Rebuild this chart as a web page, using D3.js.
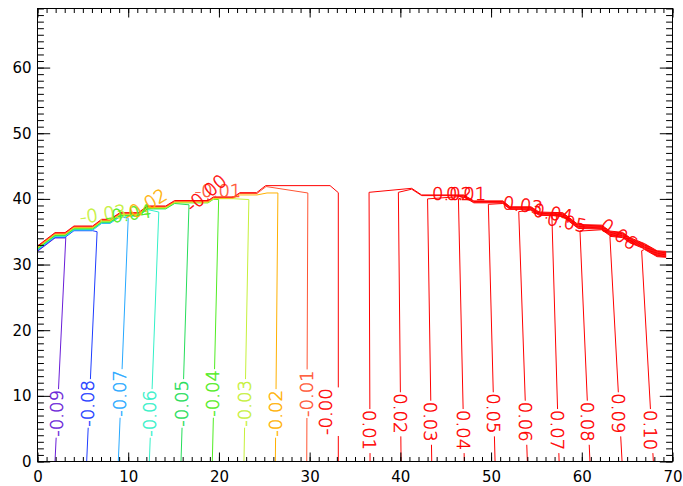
<!DOCTYPE html>
<html><head><meta charset="utf-8">
<script src="https://cdn.jsdelivr.net/npm/d3@7"></script>
<style>body{margin:0;background:#fff}svg{display:block}</style>
</head><body>
<svg id="chart" width="683" height="486"></svg>
<script>
// ---------------- data ----------------
const xTickLabels = ["0","10","20","30","40","50","60","70"];
const xTickValues = [0,10,20,30,40,50,60,70];
const yTickLabels = ["0","10","20","30","40","50","60"];
const yTickValues = [0,10,20,30,40,50,60];

// left (negative) contours
const leftLevels  = ["-0.09","-0.08","-0.07","-0.06","-0.05","-0.04","-0.03","-0.02","-0.01","-0.00"];
const leftBottomX = [1.93, 5.42, 8.91, 12.33, 15.82, 19.27, 22.76, 26.22, 29.68, 33.16];
const leftTop     = [[3.12,34.15],[6.57,35.0],[10.0,37.05],[13.37,38.0],[16.7,39.1],[19.97,39.9],[23.3,39.9],[26.5,40.9],[29.8,40.9],[33.16,40.95]];
const leftUpper   = [[],[],[],[],[],[],[],
  [[25.3,40.9],[24.2,40.6],[22.3,40.6]],
  [[25.2,41.88],[24.2,40.82],[22.3,40.82]],
  [[32.25,42.02],[25.15,42.02],[24.16,40.95],[22.32,40.95]]];
const leftRidge   = [[21.6,40.3],[19.4,40.3],[18.8,39.75],[15.12,39.75],[14.13,38.92],[12.11,38.92],[11.12,37.9],[9.09,37.9],[7.99,36.89],[7.07,36.89],[6.08,35.87],[4.02,35.87],[3.03,34.86],[1.93,34.86],[0,32.83]];
const leftDrop    = [0.81,0.72,0.63,0.54,0.45,0.36,0.27,0.18,0.09,0];
const leftLabelBottomY = [3.78, 5.30, 6.82, 3.78, 5.30, 6.82, 5.30, 3.78, 6.78, 4.04];
const leftLabelX  = [2.05, 5.49, 9.02, 12.4, 15.9, 19.31, 22.87, 26.22, 29.68, 31.8];

// right (positive) contours
const rightLevels  = ["0.01","0.02","0.03","0.04","0.05","0.06","0.07","0.08","0.09","0.10"];
const rightBottomX = [36.66, 40.08, 43.46, 47.05, 50.44, 54.0, 57.5, 60.9, 64.44, 67.89];
const rightTop     = [[36.55,41.0],[39.78,41.0],[43.0,40.0],[46.4,40.0],[49.7,39.17],[53.05,38.06],[56.7,37.5],[59.8,35.1],[63.1,34.3],[66.6,32.1]];
const rightUpper   = [[[41.25,41.61],[42.35,40.6]],[[41.25,41.48],[42.35,40.5]],[],[],[],[],[],[],[],[]];
const rightRidge   = [[42.35,40.6],[47.0,40.6],[48.1,39.7],[51.3,39.7],[52.1,38.8],[54.4,38.8],[55.3,38.0],[57.9,37.9],[59.6,36.1],[62.2,36.0],[63.1,35.1],[64.5,34.9],[65.3,34.1],[66.9,33.2],[68.3,32.1],[69.3,32.0]];
const rightDrop    = [0,0.1,0.2,0.3,0.4,0.5,0.6,0.7,0.8,0.9];
const rightLabelTopY = [7.84, 10.39, 9.11, 7.84, 10.39, 9.11, 7.84, 9.11, 10.39, 7.84];

// labels crowded along the ridge
const ridgeLabelText  = ["-0.03","-0.04","-0.02","-0.01","-0.00","0.02","0.01","0.03","0.04","0.05","0.06"];
const ridgeLabelX     = [7.22, 9.98, 11.86, 19.9, 18.58, 45.7, 47.24, 53.5, 56.83, 58.37, 64.1];
const ridgeLabelY     = [37.7, 37.7, 39.07, 41.35, 40.9, 40.8, 40.8, 39.07, 37.85, 36.48, 34.65];
const ridgeLabelAngle = [-8, -8, -31, 0, -40, 0, 0, 8, 10, 12, 35];

// ---------------- styles ----------------
const leftColors = ["#6a1ed8","#1e3cff","#26a8ff","#34f0c8","#26dd5a","#50ec22","#c6f03a","#ffb000","#ff5533","#ff0000"];
const rightColor = "#ff0000";
const ridgeLabelColor = ["#c6f03a","#50ec22","#ffb000","#ff5533","#ff0000","#ff0000","#ff0000","#ff0000","#ff0000","#ff0000","#ff0000"];
const labelFont = "font-family:'DejaVu Sans',sans-serif;font-size:18px;font-weight:200;letter-spacing:0px;stroke-width:0.45px";

// ---------------- chart ----------------
const svg = d3.select("#chart");
const L = 37.5, R = 672.5, T = 8.5, B = 461.5;
const x = d3.scaleLinear().domain([0,70]).range([L,R]);
const y = d3.scaleLinear().domain([0,69]).range([B,T]);
const line = d3.line().x(d=>x(d[0])).y(d=>y(d[1]));
const defs = svg.append("defs");
const gC = svg.append("g");

function interpX(p0, p1, yy){ return p0[0] + (p1[0]-p0[0])*(yy-p0[1])/(p1[1]-p0[1]); }

function contour(pts, color, idx, label, labelDataX, anchorY, dir){
  const lx = labelDataX != null ? labelDataX : interpX(pts[0], pts[1], anchorY);
  const t = gC.append("text").attr("style", labelFont).attr("fill", color).attr("stroke", color)
    .attr("text-anchor","start").attr("dominant-baseline","central")
    .attr("transform", `translate(${x(lx)},${y(anchorY)}) rotate(${dir<0?-90:90})`)
    .text(label);
  const len = t.node().getComputedTextLength();
  const lineX = x(interpX(pts[0], pts[1], anchorY));
  const m = defs.append("mask").attr("id","m"+idx).attr("maskUnits","userSpaceOnUse")
    .attr("x",0).attr("y",0).attr("width",683).attr("height",486);
  m.append("rect").attr("x",0).attr("y",0).attr("width",683).attr("height",486).attr("fill","#fff");
  const ya = y(anchorY);
  const y0 = dir<0 ? ya - len - 1 : ya - 1;
  const y1 = dir<0 ? ya + 1 : ya + len + 3;
  m.append("rect").attr("x",lineX-7).attr("y",y0).attr("width",14).attr("height",y1-y0).attr("fill","#000");
  gC.insert("path","text").attr("d", line(pts)).attr("fill","none").attr("stroke",color)
    .attr("stroke-width",1).attr("mask",`url(#m${idx})`);
}

leftLevels.forEach((lev,i)=>{
  const pts = [[leftBottomX[i],0], leftTop[i], ...leftUpper[i]];
  const lastX = pts[pts.length-1][0];
  leftRidge.filter(p=>p[0] < lastX-0.05).forEach(p=>pts.push([p[0], p[1]-leftDrop[i]]));
  contour(pts, leftColors[i], "L"+i, lev, leftLabelX[i], leftLabelBottomY[i], -1);
});
rightLevels.forEach((lev,i)=>{
  const pts = [[rightBottomX[i],0], rightTop[i], ...rightUpper[i]];
  const lastX = pts[pts.length-1][0];
  rightRidge.filter(p=>p[0] > lastX+0.05).forEach(p=>pts.push([p[0], p[1]-rightDrop[i]]));
  contour(pts, rightColor, "R"+i, lev, null, rightLabelTopY[i], 1);
});

ridgeLabelText.forEach((t,i)=>{
  svg.append("text").attr("style", labelFont).attr("fill", ridgeLabelColor[i]).attr("stroke", ridgeLabelColor[i])
    .attr("text-anchor","middle").attr("dominant-baseline","central")
    .attr("transform",`translate(${x(ridgeLabelX[i])},${y(ridgeLabelY[i])}) rotate(${ridgeLabelAngle[i]})`)
    .text(t);
});

// ---------------- axes ----------------
const minorX = d3.range(0,71,1), minorY = d3.range(0,70,1);
function styleAxis(g){
  g.select(".domain").remove();
  g.selectAll("line").attr("stroke","#000");
  g.selectAll("text").attr("font-family","'DejaVu Sans',sans-serif").attr("font-size",15).attr("fill","#000");
}
svg.append("g").attr("transform",`translate(0,${B})`).call(d3.axisBottom(x).tickValues(minorX).tickSize(-4.5).tickFormat("")).call(styleAxis);
svg.append("g").attr("transform",`translate(0,${B})`).call(d3.axisBottom(x).tickValues(xTickValues).tickSize(-9).tickPadding(10).tickFormat((d,i)=>xTickLabels[i])).call(styleAxis);
svg.append("g").attr("transform",`translate(0,${T})`).call(d3.axisTop(x).tickValues(minorX).tickSize(-4.5).tickFormat("")).call(styleAxis);
svg.append("g").attr("transform",`translate(0,${T})`).call(d3.axisTop(x).tickValues(xTickValues).tickSize(-9).tickFormat("")).call(styleAxis);
svg.append("g").attr("transform",`translate(${L},0)`).call(d3.axisLeft(y).tickValues(minorY).tickSize(-6.4).tickFormat("")).call(styleAxis);
svg.append("g").attr("transform",`translate(${L},0)`).call(d3.axisLeft(y).tickValues(yTickValues).tickSize(-12.7).tickPadding(6).tickFormat((d,i)=>yTickLabels[i])).call(styleAxis);
svg.append("g").attr("transform",`translate(${R},0)`).call(d3.axisRight(y).tickValues(minorY).tickSize(-6.4).tickFormat("")).call(styleAxis);
svg.append("g").attr("transform",`translate(${R},0)`).call(d3.axisRight(y).tickValues(yTickValues).tickSize(-12.7).tickFormat("")).call(styleAxis);
svg.append("rect").attr("x",L).attr("y",T).attr("width",R-L).attr("height",B-T).attr("fill","none").attr("stroke","#000").attr("stroke-width",1);
</script>
</body></html>
